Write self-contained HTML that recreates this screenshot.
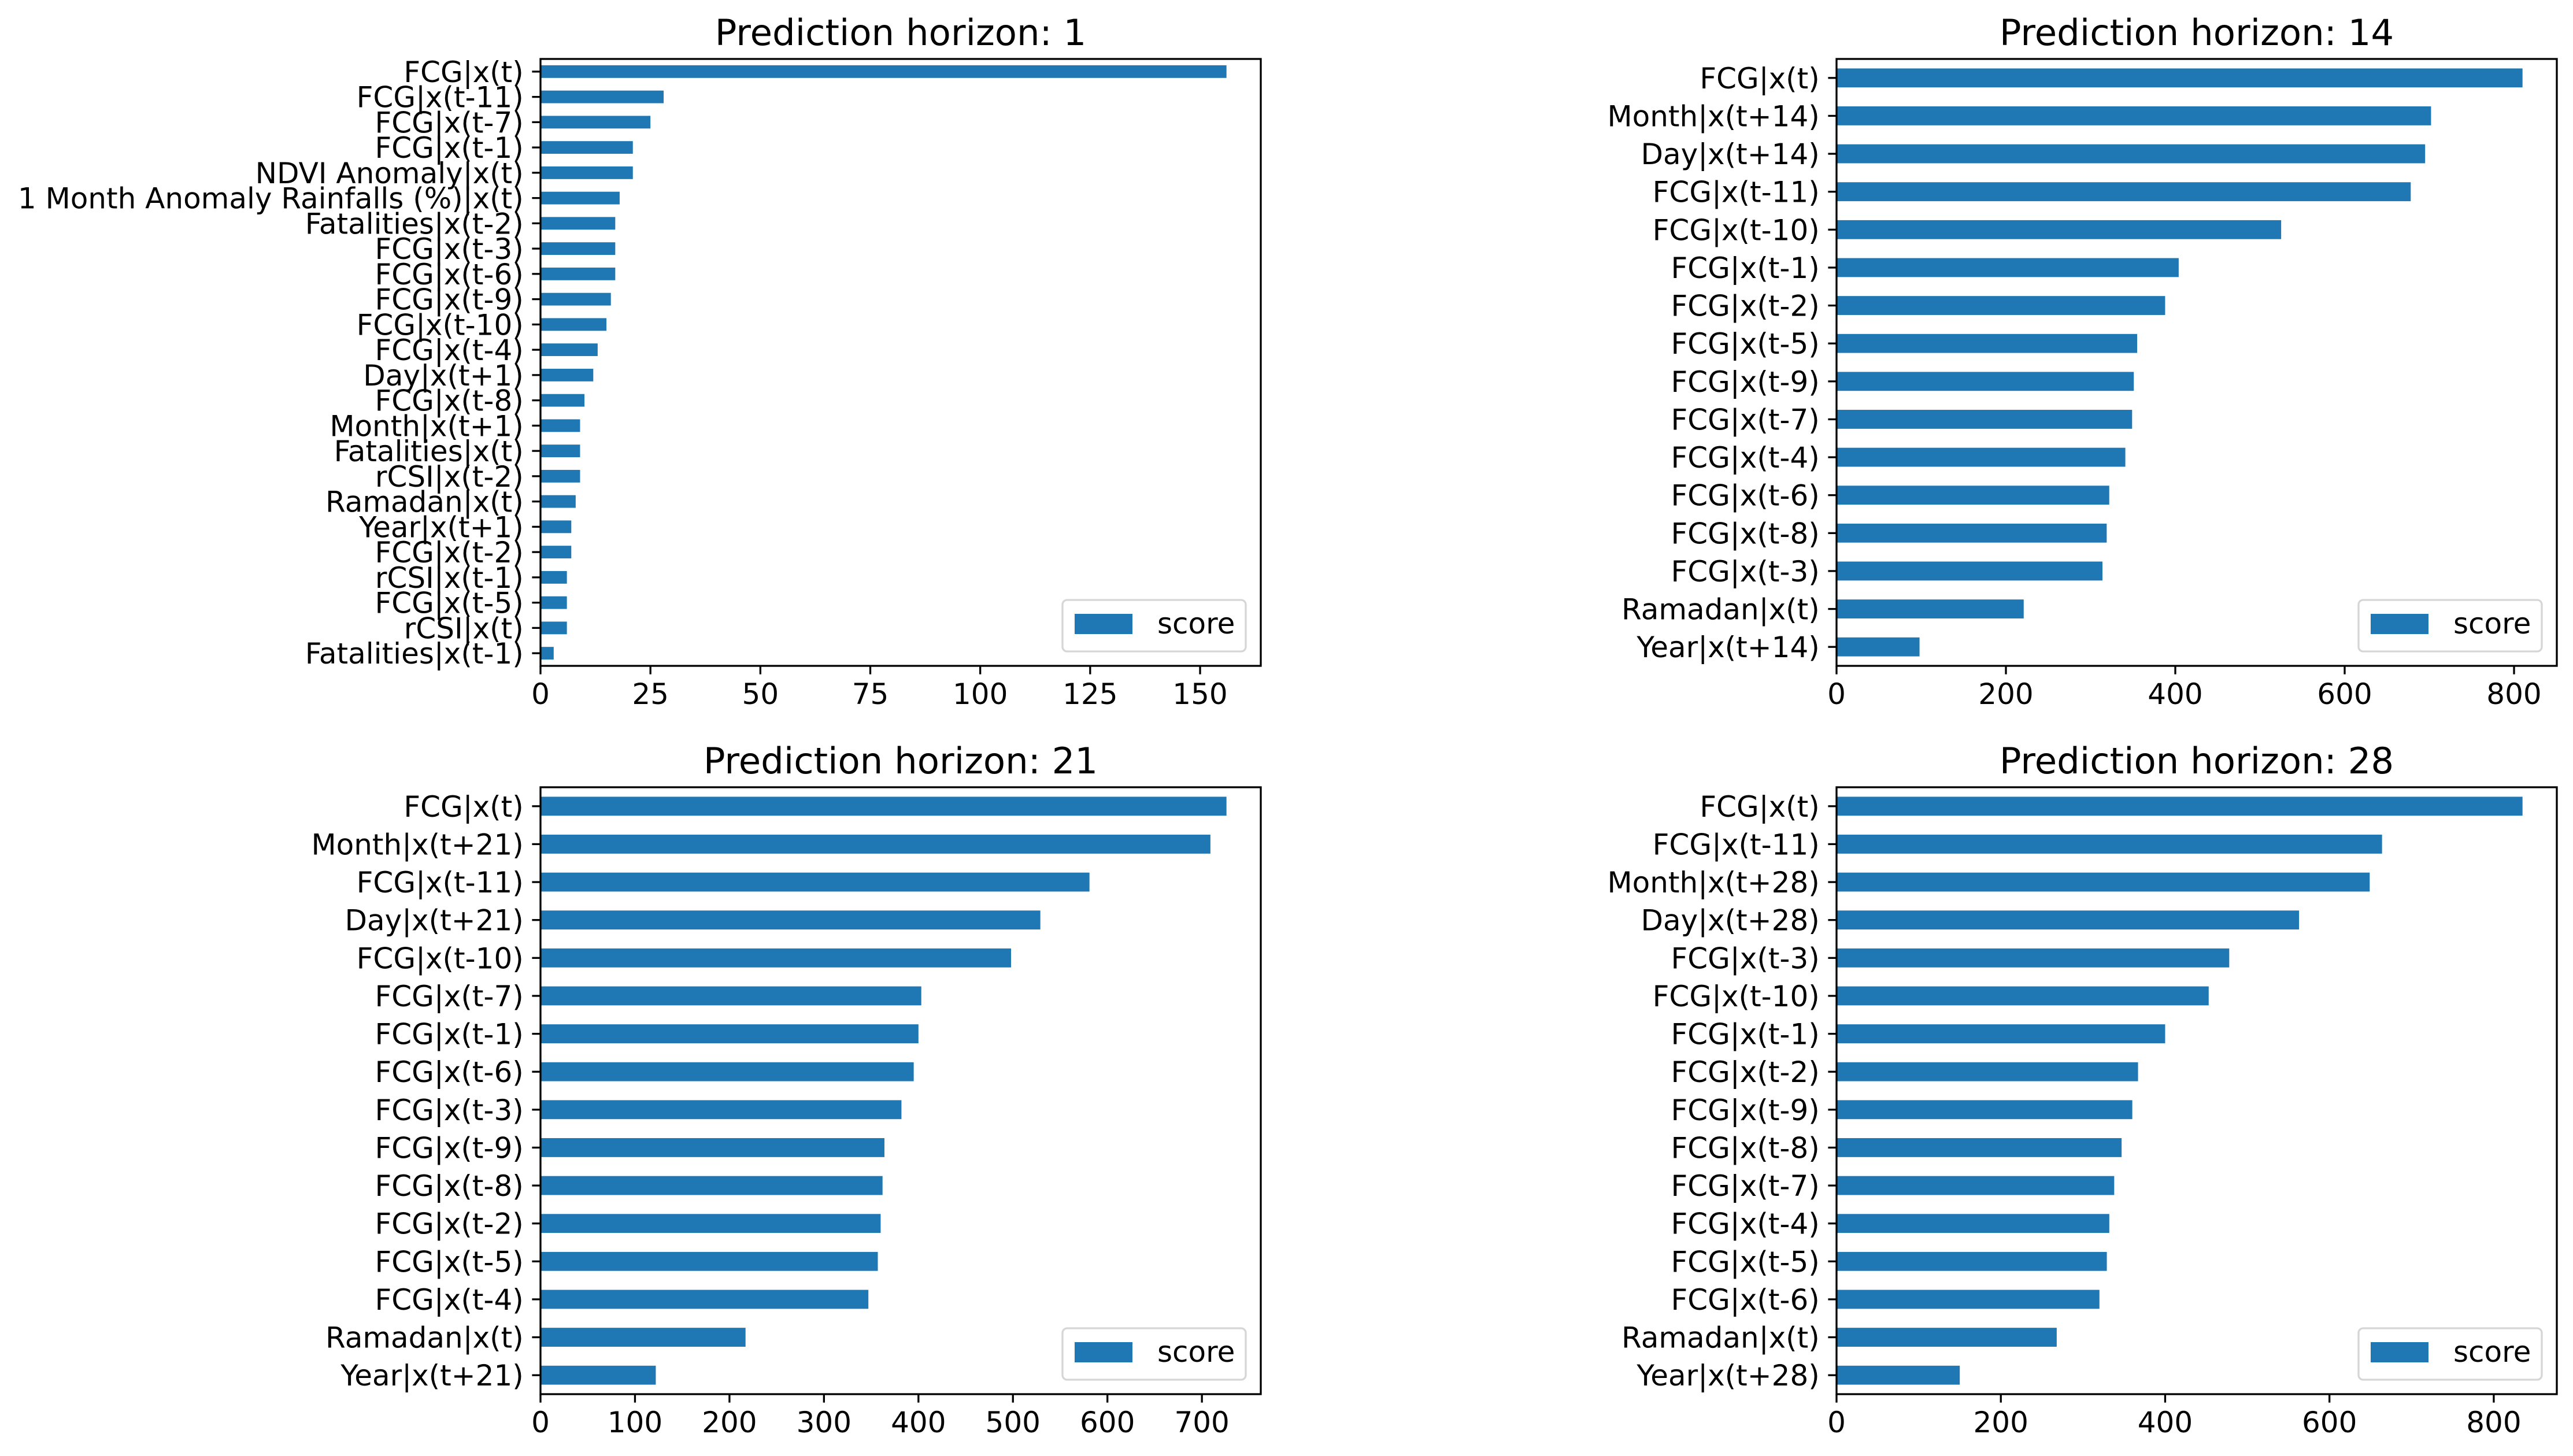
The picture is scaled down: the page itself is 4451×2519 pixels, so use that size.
<!DOCTYPE html>
<html><head><meta charset="utf-8"><style>
html,body{margin:0;padding:0;background:#fff;}
svg{display:block;}
text{font-family:"DejaVu Sans","Liberation Sans",sans-serif;fill:#000;}
</style></head><body>
<svg id="fig" width="4451" height="2519" viewBox="0 0 4451 2519" xmlns="http://www.w3.org/2000/svg"></svg>
<script>
const titles = ["Prediction horizon: 1","Prediction horizon: 14","Prediction horizon: 21","Prediction horizon: 28"];
const labels1 = ["FCG|x(t)","FCG|x(t-11)","FCG|x(t-7)","FCG|x(t-1)","NDVI Anomaly|x(t)","1 Month Anomaly Rainfalls (%)|x(t)","Fatalities|x(t-2)","FCG|x(t-3)","FCG|x(t-6)","FCG|x(t-9)","FCG|x(t-10)","FCG|x(t-4)","Day|x(t+1)","FCG|x(t-8)","Month|x(t+1)","Fatalities|x(t)","rCSI|x(t-2)","Ramadan|x(t)","Year|x(t+1)","FCG|x(t-2)","rCSI|x(t-1)","FCG|x(t-5)","rCSI|x(t)","Fatalities|x(t-1)"];
const values1 = [156,28,25,21,21,18,17,17,17,16,15,13,12,10,9,9,9,8,7,7,6,6,6,3];
const ticks1 = [0,25,50,75,100,125,150];
const labels14 = ["FCG|x(t)","Month|x(t+14)","Day|x(t+14)","FCG|x(t-11)","FCG|x(t-10)","FCG|x(t-1)","FCG|x(t-2)","FCG|x(t-5)","FCG|x(t-9)","FCG|x(t-7)","FCG|x(t-4)","FCG|x(t-6)","FCG|x(t-8)","FCG|x(t-3)","Ramadan|x(t)","Year|x(t+14)"];
const values14 = [810,702,695,678,525,404,388,355,351,349,341,322,319,314,221,98];
const ticks14 = [0,200,400,600,800];
const labels21 = ["FCG|x(t)","Month|x(t+21)","FCG|x(t-11)","Day|x(t+21)","FCG|x(t-10)","FCG|x(t-7)","FCG|x(t-1)","FCG|x(t-6)","FCG|x(t-3)","FCG|x(t-9)","FCG|x(t-8)","FCG|x(t-2)","FCG|x(t-5)","FCG|x(t-4)","Ramadan|x(t)","Year|x(t+21)"];
const values21 = [726,709,581,529,498,403,400,395,382,364,362,360,357,347,217,122];
const ticks21 = [0,100,200,300,400,500,600,700];
const labels28 = ["FCG|x(t)","FCG|x(t-11)","Month|x(t+28)","Day|x(t+28)","FCG|x(t-3)","FCG|x(t-10)","FCG|x(t-1)","FCG|x(t-2)","FCG|x(t-9)","FCG|x(t-8)","FCG|x(t-7)","FCG|x(t-4)","FCG|x(t-5)","FCG|x(t-6)","Ramadan|x(t)","Year|x(t+28)"];
const values28 = [835,664,649,563,478,453,400,367,360,347,338,332,329,320,268,150];
const ticks28 = [0,200,400,600,800];

const NS="http://www.w3.org/2000/svg";
const svg=document.getElementById('fig');
function mk(tag,attrs,parent){const e=document.createElementNS(NS,tag);for(const k in attrs)e.setAttribute(k,attrs[k]);(parent||svg).appendChild(e);return e;}

const panels=[
 {id:'h1',x:935,y:102,w:1246,h:1050,labels:labels1,values:values1,ticks:ticks1,title:titles[0]},
 {id:'h14',x:3177,y:102,w:1246,h:1050,labels:labels14,values:values14,ticks:ticks14,title:titles[1]},
 {id:'h21',x:935,y:1362,w:1246,h:1050,labels:labels21,values:values21,ticks:ticks21,title:titles[2]},
 {id:'h28',x:3177,y:1362,w:1246,h:1050,labels:labels28,values:values28,ticks:ticks28,title:titles[3]}
];
const FS=50, TL=14.6;
panels.forEach(p=>{
  const g=mk('g',{});
  
  
  const xmax=Math.max(...p.values)*1.05;
  const xs=v=>p.x+v/xmax*p.w;
  const n=p.labels.length, step=p.h/n;
  const yc=i=>p.y+(i+0.5)*step;
  p.values.forEach((v,i)=>{
    const r=mk('rect',{x:xs(0),y:yc(i)-step*0.25,width:xs(v)-xs(0),height:step*0.5,fill:'#1f77b4'},g);
    
    
  });
  p.labels.forEach((l,i)=>{
    mk('line',{x1:p.x-TL,x2:p.x,y1:yc(i),y2:yc(i),stroke:'#000','stroke-width':3.3},g);
    const t=mk('text',{x:p.x-TL-14.6,y:yc(i)+18,'text-anchor':'end','font-size':FS},g);
    t.textContent=l;
    
    
  });
  p.ticks.forEach(v=>{
    mk('line',{x1:xs(v),x2:xs(v),y1:p.y+p.h,y2:p.y+p.h+TL,stroke:'#000','stroke-width':3.3},g);
    const t=mk('text',{x:xs(v),y:p.y+p.h+TL+14.6+37,'text-anchor':'middle','font-size':FS},g);
    t.textContent=v;
    
    
  });
  const fr=mk('rect',{x:p.x,y:p.y,width:p.w,height:p.h,fill:'none',stroke:'#000','stroke-width':3.3},g);
  
  
  const tt=mk('text',{x:p.x+p.w/2,y:p.y-24,'text-anchor':'middle','font-size':62.5},g);
  tt.textContent=p.title;
  
  
  const lg=mk('g',{},g);
  
  
  const lx=p.x+p.w-26-317, ly=p.y+p.h-25-89;
  mk('rect',{x:lx,y:ly,width:317,height:89,rx:8,fill:'#fff','fill-opacity':0.8,stroke:'#d6d6d6','stroke-width':3.3},lg);
  mk('rect',{x:lx+21,y:ly+24,width:100,height:35,fill:'#1f77b4'},lg);
  const lt=mk('text',{x:lx+164,y:ly+58,'font-size':FS},lg);
  lt.textContent='score';
  
  
});
</script>
</body></html>
